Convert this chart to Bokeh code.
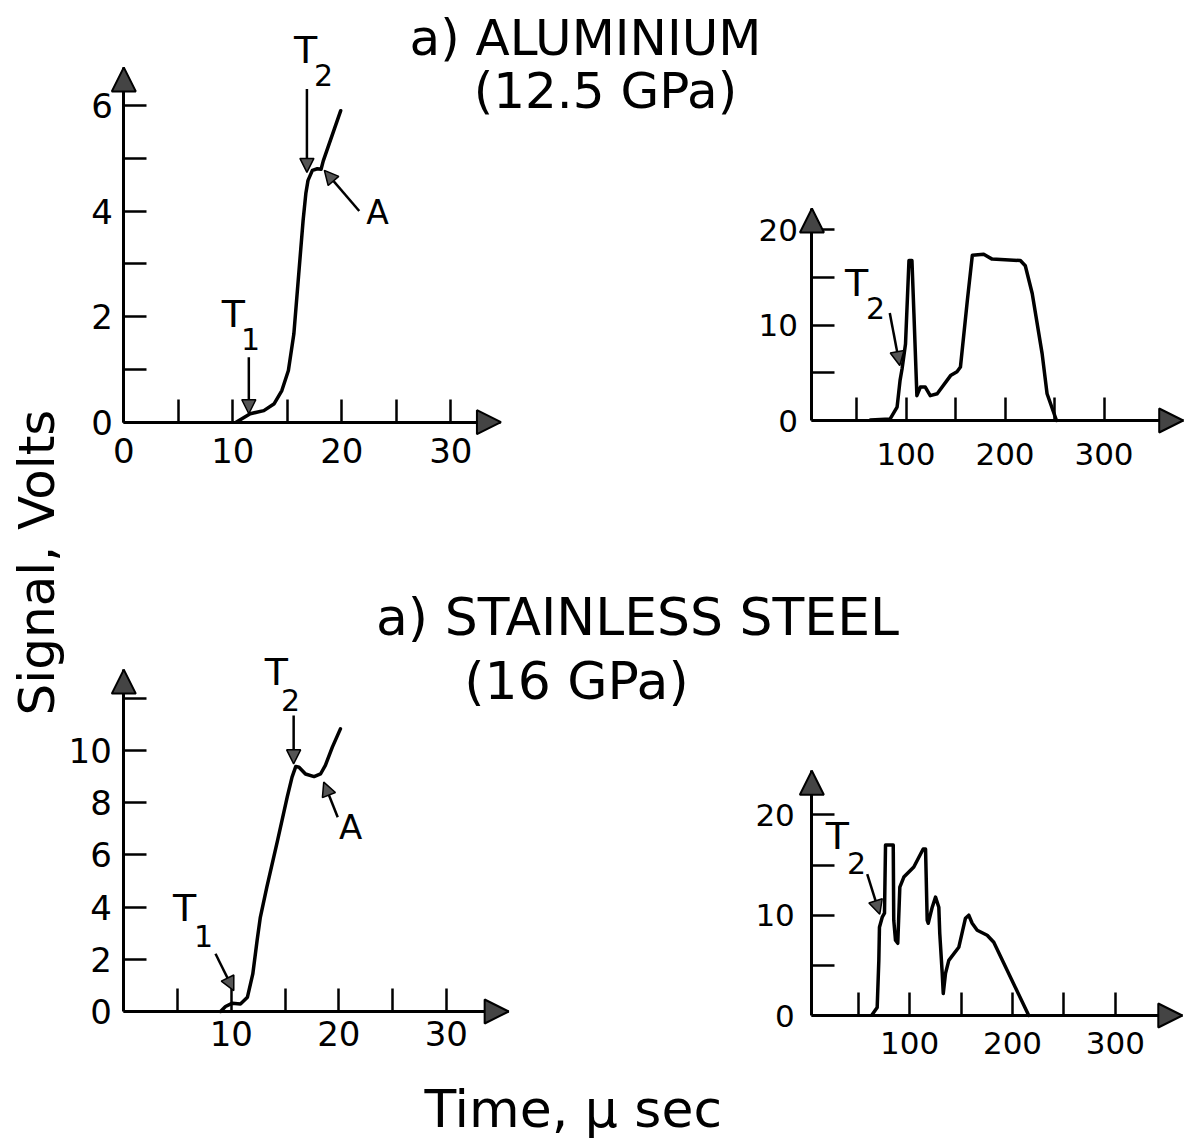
import numpy as np
from bokeh.plotting import figure
from bokeh.models import Range1d, LinearAxis, FixedTicker, Arrow, NormalHead, Label
from bokeh.embed import file_html
from bokeh.resources import INLINE

# ---------------- data ----------------
# a) Aluminium, fast sweep (0-30 us)
al_fast_t = [10.3, 11.6, 12.85, 13.8, 14.5, 15.1, 15.6, 16.05, 16.45, 16.7, 16.9, 17.3, 17.75, 18.1, 18.3, 19.9]
al_fast_v = [0.0, 0.16, 0.22, 0.35, 0.6, 0.98, 1.67, 2.81, 3.82, 4.33, 4.58, 4.77, 4.8, 4.79, 4.95, 5.9]
# a) Aluminium, slow sweep (0-300 us)
al_slow_t = [64, 84, 91, 94, 96, 99.5, 103, 106, 108, 111, 114.5, 119.5, 124.5, 131.5, 145, 151.5, 155,
             162, 167, 178.5, 187, 215.5, 220.5, 227.5, 237.5, 242.5, 252]
al_slow_v = [0.05, 0.17, 1.4, 4.2, 5.4, 8.0, 16.75, 16.75, 11.2, 2.6, 3.5, 3.5, 2.6, 2.8, 4.7, 5.1, 5.6,
             12.6, 17.3, 17.4, 16.9, 16.75, 16.2, 13.3, 7.0, 2.8, 0.0]
# a) Stainless steel, fast sweep
ss_fast_t = [9.0, 9.46, 10.1, 10.85, 11.5, 12.0, 12.4, 12.7, 13.3, 14.3, 15.2, 15.65, 16.0, 16.3, 16.9,
             17.7, 18.3, 18.75, 19.4, 20.15]
ss_fast_v = [0.0, 0.19, 0.32, 0.29, 0.55, 1.44, 2.72, 3.61, 4.76, 6.55, 8.21, 8.98, 9.39, 9.36, 9.1,
             9.0, 9.1, 9.43, 10.13, 10.83]
# a) Stainless steel, slow sweep
ss_slow_t = [63.7, 68.5, 70.1, 70.7, 73.4, 75.6, 76.6, 84.1, 84.6, 86.3, 88.5, 90.5, 94.4, 104.1, 113.2,
             115.5, 117.1, 118.1, 122, 125.2, 128.4, 129.3, 131.7, 132.7, 134.9, 138.1, 147.8, 154.3,
             157.5, 160.8, 165.7, 175.4, 181.8, 215.8]
ss_slow_v = [0.1, 0.8, 5.5, 8.8, 9.8, 10.2, 17.0, 17.0, 9.5, 7.5, 7.2, 12.8, 13.8, 14.8, 16.6,
             16.6, 9.5, 9.2, 10.8, 11.8, 10.8, 8.2, 4.2, 2.2, 4.2, 5.5, 6.8, 9.7,
             10.0, 9.2, 8.5, 8.0, 7.3, 0.0]

fast_x_major = [0, 10, 20, 30]
fast_x_minor = [5, 15, 25]
al_fast_y_major = [0, 2, 4, 6]
al_fast_y_minor = [1, 3, 5]
ss_fast_x_major = [10, 20, 30]
ss_fast_y_major = [0, 2, 4, 6, 8, 10]
ss_fast_y_minor = [12]
slow_x_major = [100, 200, 300]
slow_x_minor = [50, 150, 250]
slow_y_major = [0, 10, 20]
slow_y_minor = [5, 15]

title_al = ["a) ALUMINIUM", "(12.5 GPa)"]
title_ss = ["a) STAINLESS STEEL", "(16 GPa)"]
ylabel = "Signal, Volts"
xlabel = "Time,  \u03bc sec"

# ---------------- layout ----------------
W, H, M = 1189, 1146, 0
FONT = "DejaVu Sans"

p = figure(width=W, height=H, output_backend="svg", toolbar_location=None,
           x_axis_type=None, y_axis_type=None,
           x_range=Range1d(M, M + W), y_range=Range1d(M + H, M),
           min_border=0, outline_line_color=None)
p.background_fill_color = "white"
p.border_fill_color = "white"

# panel placement: origin pixel and pixels per data unit
panels = {
    "tl": dict(ox=123.3, sx=10.9, oy=421.7, sy=52.8),
    "tr": dict(ox=806.5, sx=0.99, oy=420.0, sy=9.55),
    "bl": dict(ox=123.3, sx=10.75, oy=1011.0, sy=26.1),
    "br": dict(ox=806.2, sx=1.029, oy=1015.0, sy=10.03),
}
for k, d in panels.items():
    p.extra_x_ranges[k + "x"] = Range1d((M - d["ox"]) / d["sx"], (M + W - d["ox"]) / d["sx"])
    p.extra_y_ranges[k + "y"] = Range1d((d["oy"] - (M + H)) / d["sy"], (d["oy"] - M) / d["sy"])


def style_axis(ax, fs, standoff):
    ax.axis_line_width = 3
    ax.axis_line_color = "black"
    ax.major_tick_in = 23
    ax.major_tick_out = 0
    ax.minor_tick_in = 23
    ax.minor_tick_out = 0
    ax.major_tick_line_width = 2.5
    ax.minor_tick_line_width = 2.5
    ax.major_tick_line_color = "black"
    ax.minor_tick_line_color = "black"
    ax.major_label_text_font = FONT
    ax.major_label_text_font_size = fs
    ax.major_label_text_color = "black"
    ax.major_label_standoff = standoff


def panel_axes(k, yfix, xfix, xbounds, ybounds, xmaj, xmin, ymaj, ymin, fs, xst, yst):
    xa = LinearAxis(x_range_name=k + "x", y_range_name=k + "y", fixed_location=xfix,
                    bounds=xbounds, ticker=FixedTicker(ticks=xmaj, minor_ticks=xmin))
    style_axis(xa, fs, xst)
    p.add_layout(xa, "below")
    ya = LinearAxis(x_range_name=k + "x", y_range_name=k + "y", fixed_location=yfix,
                    bounds=ybounds, ticker=FixedTicker(ticks=ymaj, minor_ticks=ymin))
    style_axis(ya, fs, yst)
    p.add_layout(ya, "left")
    # arrow heads at the ends of the axes
    xr = xbounds[1] - xbounds[0]
    yr = ybounds[1] - ybounds[0]
    p.add_layout(Arrow(end=NormalHead(size=24, fill_color="#444", line_color="black", line_width=2),
                       x_start=xbounds[1] - 0.04 * xr, y_start=xfix, x_end=xbounds[1], y_end=xfix,
                       x_range_name=k + "x", y_range_name=k + "y", line_width=3))
    p.add_layout(Arrow(end=NormalHead(size=24, fill_color="#444", line_color="black", line_width=2),
                       x_start=yfix, y_start=ybounds[1] - 0.04 * yr, x_end=yfix, y_end=ybounds[1],
                       x_range_name=k + "x", y_range_name=k + "y", line_width=3))


panel_axes("tl", 0, 0, (0, 34.6), (0, 6.72), fast_x_major, fast_x_minor,
           al_fast_y_major, al_fast_y_minor, "34px", 16, 11)
panel_axes("tr", 5, 0, (5, 380), (0, 22.2), slow_x_major, slow_x_minor,
           slow_y_major, slow_y_minor, "31px", 22, 14)
panel_axes("bl", 0, 0, (0, 35.8), (0, 13.1), ss_fast_x_major, fast_x_minor,
           ss_fast_y_major, ss_fast_y_minor, "34px", 9, 12)
panel_axes("br", 5, 0, (5, 365), (0, 24.4), slow_x_major, slow_x_minor,
           slow_y_major, slow_y_minor, "31px", 16, 17)

# curves
for k, t, v in [("tl", al_fast_t, al_fast_v), ("tr", al_slow_t, al_slow_v),
                ("bl", ss_fast_t, ss_fast_v), ("br", ss_slow_t, ss_slow_v)]:
    p.line(t, v, x_range_name=k + "x", y_range_name=k + "y", line_color="black",
           line_width=3.5, line_join="round", line_cap="round")


# annotation arrows and labels (data coordinates of each panel)
def ann_arrow(k, x0, y0, x1, y1):
    p.add_layout(Arrow(end=NormalHead(size=14, fill_color="#555", line_color="black", line_width=1.5),
                       x_start=x0, y_start=y0, x_end=x1, y_end=y1,
                       x_range_name=k + "x", y_range_name=k + "y", line_width=2.5))


def ann_text(k, x, y, text, fs):
    p.add_layout(Label(x=x, y=y, text=text, x_range_name=k + "x", y_range_name=k + "y",
                       text_font=FONT, text_font_size=fs, text_align="center",
                       text_baseline="middle", text_color="black"))


# top-left
ann_arrow("tl", 16.8, 6.31, 16.8, 4.73)
ann_text("tl", 16.67, 7.04, "T", "38px")
ann_text("tl", 18.32, 6.57, "2", "30px")
ann_arrow("tl", 11.47, 1.23, 11.47, 0.16)
ann_text("tl", 10.06, 2.04, "T", "38px")
ann_text("tl", 11.62, 1.57, "1", "30px")
ann_arrow("tl", 21.6, 4.0, 18.4, 4.77)
ann_text("tl", 23.27, 3.97, "A", "33px")
# top-right
ann_arrow("tr", 83.6, 11.25, 93.7, 5.76)
ann_text("tr", 50.0, 14.45, "T", "38px")
ann_text("tr", 69.2, 11.73, "2", "30px")
# bottom-left
ann_arrow("bl", 8.53, 2.21, 10.23, 0.8)
ann_text("bl", 5.65, 3.98, "T", "38px")
ann_text("bl", 7.41, 2.91, "1", "30px")
ann_arrow("bl", 15.8, 11.34, 15.8, 9.49)
ann_text("bl", 14.2, 12.99, "T", "38px")
ann_text("bl", 15.5, 11.95, "2", "30px")
ann_arrow("bl", 19.9, 7.44, 18.6, 8.79)
ann_text("bl", 21.09, 7.05, "A", "34px")
# bottom-right
ann_arrow("br", 58.8, 14.1, 71.0, 10.1)
ann_text("br", 29.9, 17.85, "T", "38px")
ann_text("br", 48.4, 15.25, "2", "30px")


# titles and shared axis labels (page pixel coordinates on the default ranges,
# anchored at the middle of the capital letters)
def page_text(x, y, text, fs, angle=0.0):
    p.add_layout(Label(x=x, y=y, text=text, text_font=FONT, text_font_size=fs,
                       text_align="center", text_baseline="middle", angle=angle,
                       text_color="black"))


page_text(585, 37, title_al[0], "50px")
page_text(605, 90, title_al[1], "50px")
page_text(637, 616, title_ss[0], "52px")
page_text(576, 680, title_ss[1], "52px")
page_text(36, 562, ylabel, "50px", angle=np.pi / 2)
page_text(581, 1108, xlabel, "52px")

open("out.html", "w").write(file_html(p, INLINE))
